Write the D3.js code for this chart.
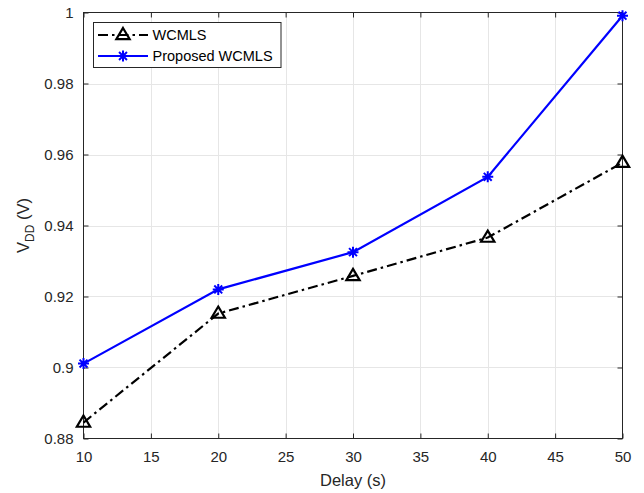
<!DOCTYPE html>
<html>
<head>
<meta charset="utf-8">
<script src="https://cdn.jsdelivr.net/npm/d3@7/dist/d3.min.js"></script>
<style>
  html, body { margin: 0; padding: 0; background: #fff; }
  svg { display: block; font-family: "Liberation Sans", Arial, sans-serif; }
</style>
</head>
<body>
<svg id="chart" width="644" height="493"></svg>
<script>
// chart data
const delays = [10, 20, 30, 40, 50];
const wcmls = [0.8845, 0.9152, 0.9258, 0.9366, 0.9577];
const proposed = [0.9011, 0.9220, 0.9325, 0.9537, 0.9991];
const xTicks = [10, 15, 20, 25, 30, 35, 40, 45, 50];
const yTicks = [0.88, 0.9, 0.92, 0.94, 0.96, 0.98, 1];
const seriesNames = ["WCMLS", "Proposed WCMLS"];

const svg = d3.select("#chart");
const axisColor = "#262626";
const dashDot = "10,4,2.5,4";
const plot = { left: 83.5, top: 12.5, right: 622.5, bottom: 438.5 };

const x = d3.scaleLinear().domain([10, 50]).range([plot.left, plot.right]);
const y = d3.scaleLinear().domain([0.88, 1]).range([plot.bottom, plot.top]);

// grid
const grid = svg.append("g").attr("stroke", "#e6e6e6").attr("stroke-width", 1);
grid.selectAll(".gx").data(xTicks.slice(1, -1)).join("line")
  .attr("x1", d => Math.round(x(d)) + 0.5).attr("x2", d => Math.round(x(d)) + 0.5)
  .attr("y1", plot.top).attr("y2", plot.bottom);
grid.selectAll(".gy").data(yTicks.slice(1, -1)).join("line")
  .attr("y1", d => Math.round(y(d)) + 0.5).attr("y2", d => Math.round(y(d)) + 0.5)
  .attr("x1", plot.left).attr("x2", plot.right);

// axes (ticks inward, box on)
const fmtY = d => d === 1 ? "1" : String(+d.toFixed(2));
function styleAxis(g) {
  g.select(".domain").remove();
  g.selectAll(".tick line").attr("stroke", axisColor);
  g.selectAll(".tick text").attr("fill", axisColor).style("font-size", "15px")
    .style("font-family", "'Liberation Sans', Arial, sans-serif");
}
svg.append("g").attr("transform", `translate(0,${plot.bottom})`)
  .call(d3.axisBottom(x).tickValues(xTicks).tickSize(-5).tickPadding(13).tickFormat(d3.format("d")))
  .call(styleAxis);
svg.append("g").attr("transform", `translate(0,${plot.top})`)
  .call(d3.axisTop(x).tickValues(xTicks).tickSize(-5).tickFormat(""))
  .call(styleAxis);
svg.append("g").attr("transform", `translate(${plot.left},0)`)
  .call(d3.axisLeft(y).tickValues(yTicks).tickSize(-5).tickPadding(10).tickFormat(fmtY))
  .call(styleAxis);
svg.append("g").attr("transform", `translate(${plot.right},0)`)
  .call(d3.axisRight(y).tickValues(yTicks).tickSize(-5).tickFormat(""))
  .call(styleAxis);

svg.append("rect")
  .attr("x", plot.left).attr("y", plot.top)
  .attr("width", plot.right - plot.left).attr("height", plot.bottom - plot.top)
  .attr("fill", "none").attr("stroke", axisColor).attr("stroke-width", 1);

// axis labels
svg.append("text")
  .attr("x", (plot.left + plot.right) / 2).attr("y", 486)
  .attr("text-anchor", "middle").attr("fill", axisColor).style("font-size", "16.5px")
  .text("Delay (s)");
const yl = svg.append("text")
  .attr("transform", `translate(29,${(plot.top + plot.bottom) / 2}) rotate(-90)`)
  .attr("text-anchor", "middle").attr("fill", axisColor).style("font-size", "16.5px");
yl.append("tspan").text("V");
yl.append("tspan").attr("dy", 5).style("font-size", "12px").text("DD");
yl.append("tspan").attr("dy", -5).text(" (V)");

// marker helpers
function triangle(g, cx, cy) {
  const s = 7;
  g.append("path")
    .attr("d", `M${cx},${cy - s}L${cx + s * 0.95},${cy + s * 0.6}L${cx - s * 0.95},${cy + s * 0.6}Z`)
    .attr("fill", "none").attr("stroke", "#000").attr("stroke-width", 2.2);
}
function asterisk(g, cx, cy) {
  const r = 5.5, d = r * 0.72;
  g.append("path")
    .attr("d", `M${cx - r},${cy}H${cx + r}M${cx},${cy - r}V${cy + r}` +
      `M${cx - d},${cy - d}L${cx + d},${cy + d}M${cx - d},${cy + d}L${cx + d},${cy - d}`)
    .attr("stroke", "#0000ff").attr("stroke-width", 2).attr("fill", "none");
}

const line = d3.line().x(d => x(d[0])).y(d => y(d[1]));

// WCMLS
const s1 = svg.append("g");
s1.append("path").datum(d3.zip(delays, wcmls))
  .attr("d", line).attr("fill", "none").attr("stroke", "#000")
  .attr("stroke-width", 2.2).attr("stroke-dasharray", dashDot);
d3.zip(delays, wcmls).forEach(d => triangle(s1, x(d[0]), y(d[1])));

// Proposed WCMLS
const s2 = svg.append("g");
s2.append("path").datum(d3.zip(delays, proposed))
  .attr("d", line).attr("fill", "none").attr("stroke", "#0000ff")
  .attr("stroke-width", 2.2);
d3.zip(delays, proposed).forEach(d => asterisk(s2, x(d[0]), y(d[1])));

// legend
const lg = svg.append("g");
lg.append("rect").attr("x", 93.5).attr("y", 22.5).attr("width", 187.5).attr("height", 45)
  .attr("fill", "#fff").attr("stroke", axisColor).attr("stroke-width", 1);
const rows = [35, 56];
lg.append("line").attr("x1", 98).attr("x2", 148).attr("y1", rows[0]).attr("y2", rows[0])
  .attr("stroke", "#000").attr("stroke-width", 2.2).attr("stroke-dasharray", dashDot);
triangle(lg, 123, rows[0]);
lg.append("line").attr("x1", 98).attr("x2", 148).attr("y1", rows[1]).attr("y2", rows[1])
  .attr("stroke", "#0000ff").attr("stroke-width", 2.2);
asterisk(lg, 123, rows[1]);
lg.selectAll("text.leg").data(seriesNames).join("text")
  .attr("x", 152.5).attr("y", (d, i) => rows[i] + 5)
  .attr("fill", "#000").style("font-size", "14.5px")
  .text(d => d);
</script>
</body>
</html>
